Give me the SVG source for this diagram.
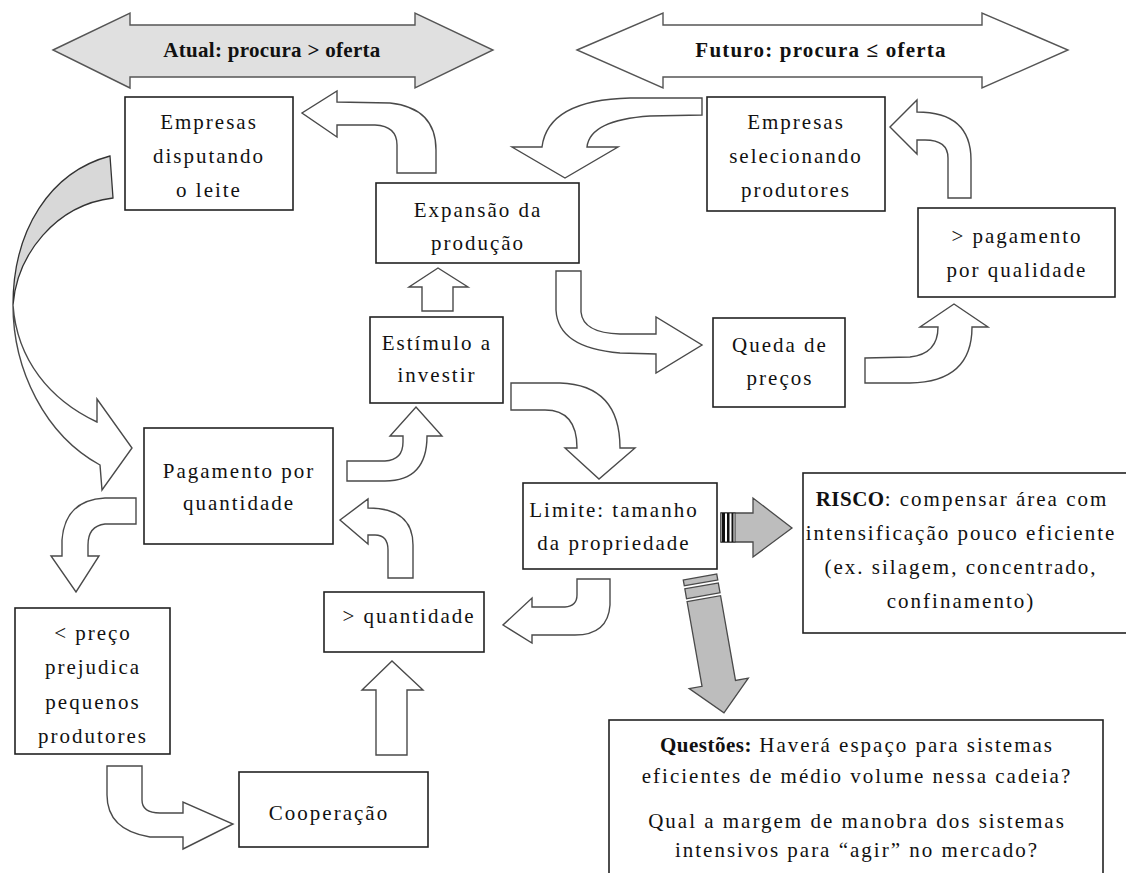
<svg xmlns="http://www.w3.org/2000/svg" width="1126" height="873" viewBox="0 0 1126 873">
<style>
.bx{fill:#fff;stroke:#222;stroke-width:1.6}
.ar{fill:#fff;stroke:#4a4a4a;stroke-width:1.4;stroke-linejoin:miter}
.ga{fill:#bdbdbd;stroke:#4a4a4a;stroke-width:1.3}
.t{font-family:"Liberation Serif","Times New Roman",serif;font-size:21px;letter-spacing:2px;fill:#111;text-anchor:middle}
.h{font-family:"Liberation Serif","Times New Roman",serif;font-size:21px;font-weight:bold;fill:#111;text-anchor:middle}
.b{font-weight:bold;letter-spacing:0.5px}
</style>
<rect width="1126" height="873" fill="#fff"/>
<g id="connectors">
  <!-- top double arrows -->
  <path d="M53,50 L130,13 L130,25 L415,25 L415,13 L493,50 L415,88 L415,77 L130,77 L130,88 Z" fill="#e0e0e0" stroke="#555" stroke-width="1.4"/>
  <path d="M577,50 L663,13 L663,25 L982,25 L982,13 L1068,50 L982,88 L982,77 L663,77 L663,88 Z" fill="#fff" stroke="#555" stroke-width="1.4"/>
  <!-- A: Expansao -> Empresas disputando -->
  <path class="ar" d="M397,173 L397,145 Q397,126 375,125 L337,125 L337,137 L302,113 L337,91 L337,102 L390,103 Q436,108 436,150 L436,173 Z"/>
  <!-- B: Empresas selecionando -> Expansao -->
  <path class="ar" d="M702,98 L702,115 L650,116 Q590,120 587,147 L618,147 L565,178 L512,147 L542,147 Q548,100 630,98 Z"/>
  <!-- C: Estimulo -> Expansao -->
  <path class="ar" d="M422,311 L422,287 L409,287 L438,268 L468,287 L453,287 L453,311 Z"/>
  <!-- D: Expansao -> Queda -->
  <path class="ar" d="M556,271 L581,271 L581,312 Q583,333 620,334 L656,334 L656,317 L702,345 L656,373 L656,354 L620,353 Q558,348 556,310 Z"/>
  <!-- E: Queda -> pagamento qualidade -->
  <path class="ar" d="M865,358 L910,357 Q938,354 938,327 L920,327 L954,304 L988,327 L972,327 Q972,382 910,383 L865,383 Z"/>
  <!-- F: pagamento qualidade -> Empresas selecionando -->
  <path class="ar" d="M948,198 L948,158 Q948,140 925,140 L917,140 L917,154 L890,127 L917,100 L917,112 Q971,112 971,160 L971,198 Z"/>
  <!-- G: gray twisted arrow Empresas disputando -> Pagamento -->
  <path d="M110,156 C50,172 13,230 13,305 C17,255 55,205 113,198 Z" fill="#d8d8d8" stroke="#333" stroke-width="1.3"/>
  <path class="ar" d="M13,305 C13,370 45,435 100,465 L102,490 L132,448 L97,399 L97,422 C50,400 17,360 13,305 Z"/>
  <!-- H: Pagamento -> < preco -->
  <path class="ar" d="M136,498 L136,524 L105,524 Q88,526 88,545 L88,556 L99,556 L76,592 L51,556 L62,556 L62,540 Q65,500 105,498 Z"/>
  <!-- I: Limite -> > quantidade -->
  <path class="ar" d="M577,579 L610,579 L610,605 Q608,635 575,635 L532,635 L532,643 L503,625 L532,598 L532,607 L565,607 Q577,606 577,595 Z"/>
  <!-- J: > quantidade -> Pagamento -->
  <path class="ar" d="M388,578 L388,550 Q388,535 375,535 L368,535 L368,544 L340,520 L368,499 L368,508 Q413,508 413,545 L413,578 Z"/>
  <!-- K: Pagamento -> Estimulo -->
  <path class="ar" d="M347,461 L385,461 Q403,460 403,442 L403,436 L390,436 L416,407 L442,436 L427,436 Q427,481 385,481 L347,481 Z"/>
  <!-- L: Estimulo -> Limite -->
  <path class="ar" d="M511,383 L560,383 Q620,385 620,448 L635,448 L599,479 L565,448 L577,448 Q577,410 545,410 L511,410 Z"/>
  <!-- M: Cooperacao -> > quantidade -->
  <path class="ar" d="M376,755 L376,690 L362,690 L392,661 L423,690 L407,690 L407,755 Z"/>
  <!-- N: < preco -> Cooperacao -->
  <path class="ar" d="M107,766 L142,766 L142,800 Q142,813 160,813 L183,813 L183,802 L233,824 L183,849 L183,837 L150,837 Q107,830 107,795 Z"/>
  <!-- O: striped arrow Limite -> RISCO -->
  <g id="striped-right">
    <path class="ga" d="M721,513 L753,513 L753,498 L792,528 L753,557 L753,542 L721,542 Z"/>
    <rect x="721" y="513" width="14" height="29" fill="#fff" stroke="#333" stroke-width="1"/>
    <rect x="722" y="513" width="3" height="29" fill="#111"/>
    <rect x="727" y="513" width="2.5" height="29" fill="#111"/>
    <rect x="731.5" y="513" width="2" height="29" fill="#111"/>
  </g>
  <!-- P: striped arrow Limite -> Questoes -->
  <g id="striped-down" transform="translate(700,577) rotate(-10)">
    <path class="ga" d="M-17,22 L17,22 L17,108 L30,108 L0,138 L-30,108 L-17,108 Z"/>
    <rect class="ga" x="-17" y="0" width="34" height="6"/>
    <rect class="ga" x="-17" y="9" width="34" height="10"/>
  </g>
</g>
<g id="title-atual"><text class="h" x="272" y="57" letter-spacing="0.3">Atual: procura &gt; oferta</text></g>
<g id="title-futuro"><text class="h" x="821" y="57" letter-spacing="1.2">Futuro: procura ≤ oferta</text></g>
<g id="n-empresas-disputando">
  <rect class="bx" x="125" y="97" width="168" height="113"/>
  <text class="t" x="209" y="129">Empresas</text>
  <text class="t" x="209" y="163">disputando</text>
  <text class="t" x="209" y="197">o leite</text>
</g>
<g id="n-expansao">
  <rect class="bx" x="376" y="183" width="203" height="80"/>
  <text class="t" x="478" y="217">Expansão da</text>
  <text class="t" x="478" y="250">produção</text>
</g>
<g id="n-empresas-selecionando">
  <rect class="bx" x="707" y="97" width="178" height="114"/>
  <text class="t" x="796" y="129">Empresas</text>
  <text class="t" x="796" y="163">selecionando</text>
  <text class="t" x="796" y="197">produtores</text>
</g>
<g id="n-pagamento-qualidade">
  <rect class="bx" x="918" y="208" width="197" height="89"/>
  <text class="t" x="1017" y="243">&gt; pagamento</text>
  <text class="t" x="1017" y="277">por qualidade</text>
</g>
<g id="n-queda">
  <rect class="bx" x="713" y="318" width="132" height="89"/>
  <text class="t" x="780" y="352">Queda de</text>
  <text class="t" x="780" y="385">preços</text>
</g>
<g id="n-estimulo">
  <rect class="bx" x="370" y="317" width="133" height="86"/>
  <text class="t" x="437" y="350">Estímulo a</text>
  <text class="t" x="437" y="382">investir</text>
</g>
<g id="n-pagamento-quantidade">
  <rect class="bx" x="144" y="428" width="189" height="116"/>
  <text class="t" x="239" y="478">Pagamento por</text>
  <text class="t" x="239" y="510">quantidade</text>
</g>
<g id="n-limite">
  <rect class="bx" x="523" y="483" width="194" height="86"/>
  <text class="t" x="614" y="517">Limite: tamanho</text>
  <text class="t" x="614" y="550">da propriedade</text>
</g>
<g id="n-risco">
  <rect class="bx" x="803" y="473" width="330" height="160"/>
  <text class="t" x="962" y="506"><tspan class="b">RISCO</tspan>: compensar área com</text>
  <text class="t" x="961" y="540">intensificação pouco eficiente</text>
  <text class="t" x="961" y="574">(ex. silagem, concentrado,</text>
  <text class="t" x="961" y="608">confinamento)</text>
</g>
<g id="n-quantidade">
  <rect class="bx" x="324" y="592" width="160" height="60"/>
  <text class="t" x="409" y="623">&gt; quantidade</text>
</g>
<g id="n-preco">
  <rect class="bx" x="15" y="608" width="155" height="146"/>
  <text class="t" x="93" y="640">&lt; preço</text>
  <text class="t" x="93" y="674">prejudica</text>
  <text class="t" x="93" y="709">pequenos</text>
  <text class="t" x="93" y="743">produtores</text>
</g>
<g id="n-cooperacao">
  <rect class="bx" x="239" y="772" width="189" height="75"/>
  <text class="t" x="329" y="820">Cooperação</text>
</g>
<g id="n-questoes">
  <rect class="bx" x="609" y="720" width="494" height="170"/>
  <text class="t" x="857" y="752"><tspan class="b">Questões:</tspan> Haverá espaço para sistemas</text>
  <text class="t" x="857" y="783">eficientes de médio volume nessa cadeia?</text>
  <text class="t" x="857" y="828">Qual a margem de manobra dos sistemas</text>
  <text class="t" x="857" y="857">intensivos para “agir” no mercado?</text>
</g>
</svg>
